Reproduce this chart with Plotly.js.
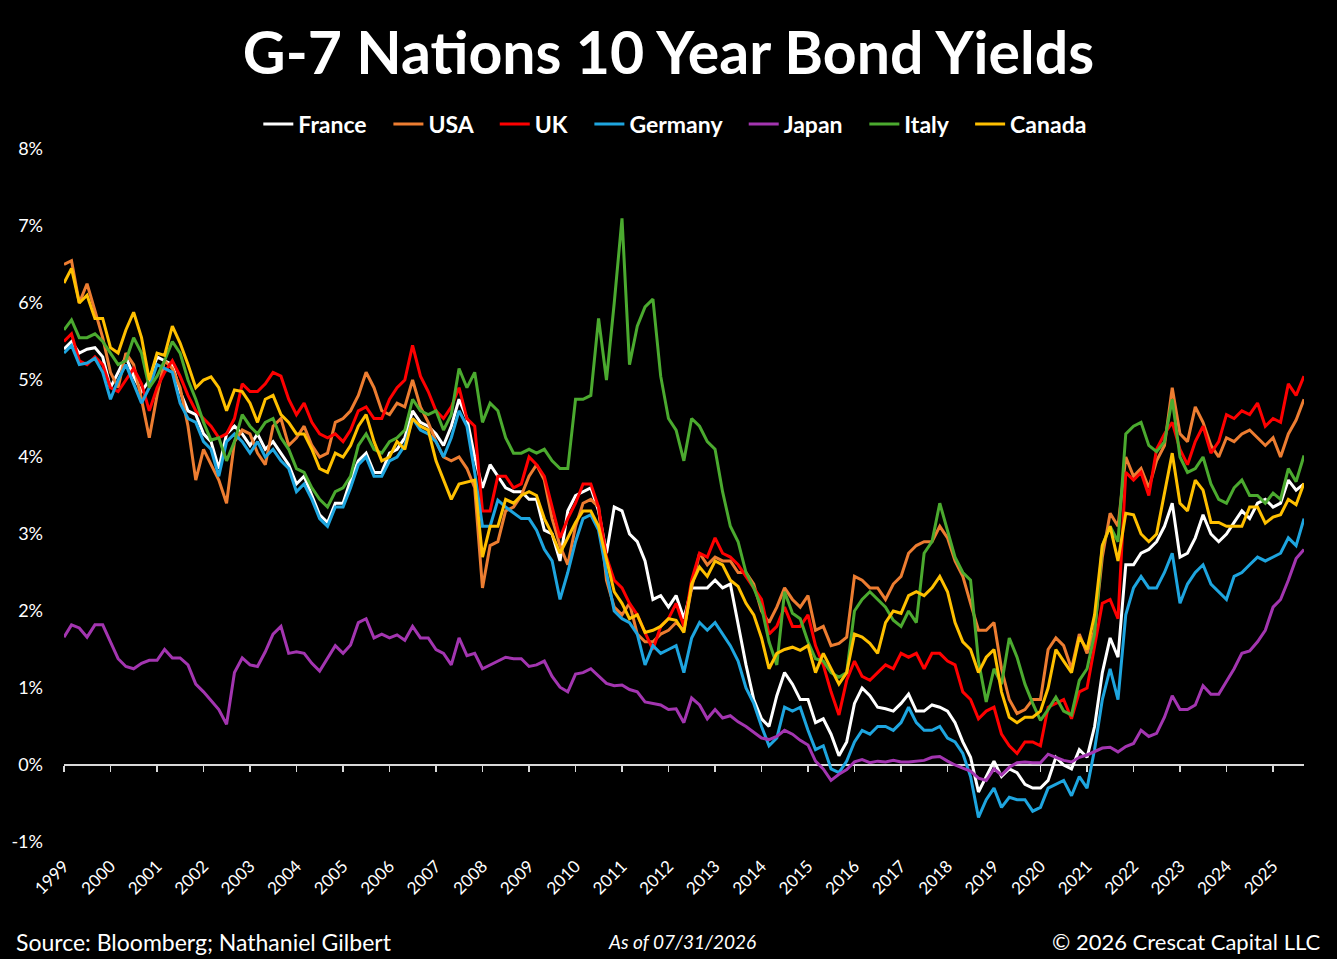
<!DOCTYPE html>
<html>
<head>
<meta charset="utf-8">
<script src="https://cdn.plot.ly/plotly-3.0.1.min.js"></script>
<style>
  html, body { margin: 0; padding: 0; background: #000; }
  #chart { width: 1337px; height: 959px; }
</style>
</head>
<body>
<div id="chart"></div>
<script>
// bimonthly readings (Jan, Mar, May, Jul, Sep, Nov), 1999-01 .. 2025-09
var months = [1, 3, 5, 7, 9, 11];
var dates = [];
for (var yr = 1999; yr <= 2025; yr++) {
  months.forEach(function (m) {
    if (yr === 2025 && m > 9) return;
    dates.push(yr + '-' + (m < 10 ? '0' + m : m) + '-01');
  });
}

var countries = ['France', 'USA', 'UK', 'Germany', 'Japan', 'Italy', 'Canada'];
var colors = ['#FFFFFF', '#ED7D31', '#FF0000', '#1EA5DF', '#A335B0', '#4BAA2F', '#FFC000'];

var yTickVals = [-1, 0, 1, 2, 3, 4, 5, 6, 7, 8];
var yTickText = ['-1%', '0%', '1%', '2%', '3%', '4%', '5%', '6%', '7%', '8%'];

var france = [
  5.4, 5.5, 5.35, 5.4, 5.42, 5.3,
  4.9, 5.1, 5.3, 5.05, 4.85, 5.0,
  5.3, 5.25, 5.2, 4.85, 4.6, 4.55,
  4.3, 4.2, 3.85, 4.3, 4.4, 4.3,
  4.15, 4.3, 4.1, 4.2, 4.05, 3.9,
  3.65, 3.75, 3.5, 3.25, 3.15, 3.4,
  3.4, 3.7, 3.95, 4.05, 3.8, 3.8,
  4.05, 4.1, 4.25, 4.6, 4.45, 4.4,
  4.3, 4.15, 4.4, 4.75, 4.5, 4.0,
  3.6, 3.9, 3.75, 3.6, 3.55, 3.55,
  3.45, 3.45, 3.05, 3.0, 2.65, 3.3,
  3.5, 3.55, 3.6, 3.3, 2.75, 3.35,
  3.3, 3.0, 2.9, 2.65, 2.15, 2.2,
  2.05, 2.2, 1.9, 2.3, 2.3, 2.3,
  2.4, 2.3, 2.35, 1.85, 1.3, 0.85,
  0.6, 0.5, 0.9, 1.2, 1.05, 0.85,
  0.85, 0.55, 0.6, 0.4, 0.12, 0.3,
  0.8, 1.0, 0.9, 0.75, 0.73, 0.7,
  0.8, 0.92, 0.7, 0.7, 0.78, 0.75,
  0.7, 0.55, 0.3, 0.1, -0.35, -0.15,
  0.05, -0.15, -0.05, -0.1, -0.25, -0.3,
  -0.3, -0.2, 0.1, 0.0, -0.05, 0.2,
  0.1, 0.5, 1.2, 1.65, 1.4, 2.6,
  2.6, 2.75, 2.8, 2.9, 3.1, 3.4,
  2.7, 2.75, 2.95, 3.25, 3.0, 2.9,
  3.0, 3.15, 3.3, 3.2, 3.4, 3.45,
  3.35, 3.4, 3.7, 3.57, 3.65
];

var usa = [
  6.5, 6.55, 6.0, 6.25, 5.9, 5.55,
  5.1, 4.9, 5.35, 5.2, 4.75, 4.25,
  4.8, 5.25, 5.15, 4.9, 4.4, 3.7,
  4.1, 3.9, 3.7, 3.4, 4.2, 4.35,
  4.3, 4.05, 3.9, 4.4, 4.5, 4.15,
  4.25, 4.4, 4.15, 4.0, 4.05, 4.45,
  4.5, 4.6, 4.8, 5.1, 4.9, 4.6,
  4.55, 4.7, 4.65, 5.0, 4.65, 4.45,
  4.2, 4.0, 3.95, 4.0, 3.85, 3.6,
  2.3, 2.85, 2.9, 3.3, 3.35, 3.5,
  3.75, 3.9, 3.7, 3.2, 2.85, 2.6,
  3.1, 3.4, 3.45, 3.35, 2.4, 2.05,
  1.95, 2.1, 1.7, 1.6, 1.6, 1.7,
  1.75, 1.85, 1.75, 2.3, 2.75, 2.6,
  2.7, 2.65, 2.65, 2.5, 2.5, 2.35,
  2.0, 1.85, 2.05, 2.3, 2.15, 2.05,
  2.2, 1.75, 1.8, 1.55, 1.58, 1.66,
  2.45, 2.4, 2.3, 2.3, 2.15, 2.35,
  2.45, 2.75, 2.85, 2.9, 2.9, 3.1,
  2.95, 2.65, 2.45, 2.1, 1.75, 1.75,
  1.85, 1.25, 0.85, 0.67, 0.72, 0.85,
  0.85, 1.5, 1.65, 1.55, 1.25, 1.7,
  1.45, 1.75, 2.7, 3.27, 3.1, 4.0,
  3.75, 3.85, 3.6, 3.95, 4.15, 4.9,
  4.3, 4.2, 4.65, 4.45, 4.15, 4.0,
  4.25, 4.2, 4.3, 4.35, 4.25, 4.15,
  4.25, 4.0, 4.3, 4.48, 4.75
];

var uk = [
  5.5, 5.6, 5.25, 5.2, 5.3, 5.2,
  4.9, 4.85, 5.0, 5.15, 4.95, 4.6,
  4.9, 5.1, 5.25, 5.05, 4.8, 4.6,
  4.5, 4.4, 4.25, 4.3, 4.5, 4.95,
  4.85, 4.85, 4.95, 5.1, 5.05, 4.75,
  4.55, 4.7, 4.45, 4.3, 4.25, 4.3,
  4.2, 4.35, 4.6, 4.65, 4.5, 4.5,
  4.75, 4.9, 5.0, 5.45, 5.05, 4.85,
  4.6, 4.5, 4.65, 4.9, 4.5, 4.4,
  3.3, 3.3, 3.75, 3.75, 3.6, 3.65,
  4.0, 3.9, 3.75, 3.35, 2.95, 3.2,
  3.4, 3.65, 3.65, 3.35, 2.7, 2.4,
  2.3, 2.1, 1.95, 1.72, 1.5, 1.8,
  1.9, 2.1, 1.8, 2.4, 2.75, 2.7,
  2.95, 2.75, 2.7, 2.6, 2.45, 2.3,
  2.15, 1.7, 1.8, 2.05, 1.8, 1.8,
  1.95, 1.55, 1.3, 0.95, 0.65, 1.1,
  1.35, 1.15, 1.1, 1.2, 1.3, 1.25,
  1.45, 1.4, 1.45, 1.25, 1.45, 1.45,
  1.35, 1.3, 0.95, 0.85, 0.6, 0.7,
  0.75, 0.4, 0.25, 0.15, 0.3, 0.3,
  0.25, 0.75, 0.8, 0.85, 0.6, 0.95,
  1.0, 1.55, 2.1, 2.15, 1.9, 3.8,
  3.7, 3.8, 3.5, 4.1, 4.3, 4.45,
  4.1, 3.9, 4.2, 4.4, 4.05, 4.2,
  4.55, 4.5, 4.6, 4.55, 4.7, 4.4,
  4.5, 4.45, 4.95, 4.8, 5.05
];

var germany = [
  5.35, 5.45, 5.2, 5.22, 5.28, 5.1,
  4.75, 5.0, 5.2, 4.95, 4.7, 4.9,
  5.2, 5.15, 5.1, 4.7, 4.5, 4.45,
  4.2, 4.1, 3.75, 4.2, 4.3, 4.2,
  4.05, 4.2, 4.0, 4.1, 3.95, 3.85,
  3.55, 3.65, 3.45, 3.2, 3.1, 3.35,
  3.35, 3.6, 3.9, 4.0, 3.75, 3.75,
  3.95, 4.0, 4.15, 4.5, 4.35, 4.3,
  4.2, 4.0, 4.25, 4.6, 4.4, 3.8,
  3.1, 3.1, 3.44, 3.35, 3.27, 3.2,
  3.2, 3.05, 2.8, 2.65, 2.15, 2.5,
  2.9, 3.2, 3.25, 3.05, 2.5, 2.0,
  1.9, 1.85, 1.7, 1.3, 1.55, 1.45,
  1.5, 1.55, 1.2, 1.65, 1.85, 1.75,
  1.85, 1.7, 1.55, 1.35, 1.0, 0.8,
  0.5, 0.25, 0.35, 0.75, 0.7, 0.75,
  0.45, 0.2, 0.25, -0.05, -0.1, 0.05,
  0.3, 0.45, 0.4, 0.5, 0.5, 0.45,
  0.55, 0.75, 0.55, 0.45, 0.45, 0.5,
  0.35, 0.3, 0.15, -0.15, -0.68, -0.45,
  -0.3, -0.55, -0.42, -0.45, -0.45, -0.6,
  -0.55, -0.3, -0.25, -0.2, -0.4, -0.15,
  -0.3, 0.2, 0.85, 1.25, 0.85, 1.95,
  2.3, 2.45, 2.3, 2.3, 2.5, 2.75,
  2.1, 2.35, 2.5, 2.6, 2.35, 2.25,
  2.15, 2.45, 2.5, 2.6, 2.7, 2.65,
  2.7, 2.75, 2.95, 2.85, 3.2
];

var japan = [
  1.66, 1.82, 1.78, 1.66, 1.82, 1.82,
  1.6, 1.38, 1.28, 1.25, 1.32, 1.36,
  1.36, 1.5, 1.39, 1.39, 1.3, 1.05,
  0.95, 0.83, 0.72, 0.53, 1.2, 1.39,
  1.3, 1.28, 1.47, 1.7, 1.8, 1.45,
  1.47, 1.45, 1.32, 1.22, 1.38, 1.55,
  1.45, 1.56, 1.85, 1.9, 1.65, 1.7,
  1.65, 1.69, 1.62, 1.8, 1.65, 1.65,
  1.5, 1.45, 1.3, 1.65, 1.42, 1.45,
  1.25, 1.3, 1.35, 1.4, 1.38, 1.38,
  1.28, 1.3, 1.35, 1.15, 1.01, 0.95,
  1.18, 1.2, 1.25, 1.15, 1.06, 1.03,
  1.04, 0.98, 0.95, 0.82, 0.8, 0.78,
  0.72, 0.73, 0.55, 0.87, 0.78, 0.6,
  0.72, 0.61, 0.64, 0.56, 0.5, 0.42,
  0.35, 0.33, 0.37, 0.45, 0.4, 0.32,
  0.26, 0.05, -0.05, -0.2, -0.12, -0.06,
  0.04, 0.07, 0.03, 0.05, 0.04, 0.06,
  0.04, 0.04, 0.05, 0.06, 0.1, 0.11,
  0.05, 0.0, -0.04, -0.08, -0.17, -0.2,
  -0.05, -0.13, -0.03, 0.03, 0.04, 0.03,
  0.03, 0.14, 0.1, 0.06, 0.04, 0.1,
  0.13, 0.17, 0.22, 0.23, 0.17, 0.24,
  0.28, 0.45, 0.37, 0.41, 0.62, 0.9,
  0.72, 0.72, 0.78, 1.03, 0.92, 0.92,
  1.08, 1.25, 1.45, 1.48, 1.6, 1.75,
  2.05, 2.15, 2.4, 2.68, 2.8
];

var italy = [
  5.65, 5.78, 5.55, 5.55, 5.6, 5.5,
  5.35, 5.2, 5.25, 5.55, 5.35, 4.9,
  5.05, 5.25, 5.5, 5.35, 5.0, 4.75,
  4.45, 4.22, 4.25, 3.95, 4.2, 4.55,
  4.4, 4.3, 4.45, 4.5, 4.25, 4.1,
  3.85, 3.8, 3.6, 3.45, 3.35, 3.55,
  3.6, 3.75, 4.15, 4.3, 4.1, 4.05,
  4.2, 4.25, 4.35, 4.75, 4.6, 4.55,
  4.6, 4.35, 4.55, 5.15, 4.9, 5.1,
  4.45, 4.7, 4.6, 4.25, 4.05, 4.05,
  4.1, 4.05, 4.1, 3.95, 3.85, 3.85,
  4.75, 4.75, 4.8, 5.8, 5.0, 6.0,
  7.1, 5.2, 5.7, 5.95, 6.05, 5.05,
  4.5, 4.35, 3.95, 4.5, 4.4, 4.2,
  4.1, 3.55, 3.1, 2.9, 2.5, 2.3,
  2.05, 1.6, 1.3, 2.25, 1.97, 1.9,
  1.6, 1.38, 1.35, 1.2, 1.14, 1.2,
  2.0, 2.15, 2.25, 2.15, 2.05, 1.88,
  1.8, 2.0, 1.85, 2.75, 2.9, 3.4,
  3.05, 2.7, 2.5, 2.4, 1.35, 0.82,
  1.25, 1.05, 1.65, 1.4, 1.05, 0.8,
  0.58, 0.72, 0.88, 0.7, 0.65, 1.1,
  1.25, 1.7, 2.85, 3.1, 2.9, 4.3,
  4.4, 4.45, 4.15, 4.07, 4.2, 4.75,
  4.0, 3.8, 3.85, 4.0, 3.65, 3.45,
  3.4, 3.6, 3.7, 3.5, 3.5, 3.4,
  3.53, 3.45, 3.85, 3.68, 4.02
];

var canada = [
  6.26, 6.45, 6.0, 6.1, 5.8, 5.8,
  5.42, 5.35, 5.65, 5.88, 5.55, 5.0,
  5.35, 5.32, 5.7, 5.48, 5.2, 4.9,
  5.0, 5.04, 4.9, 4.6, 4.87, 4.85,
  4.7, 4.45, 4.75, 4.8, 4.55, 4.45,
  4.3, 4.3, 4.1, 3.85, 3.8, 4.05,
  4.0, 4.15, 4.4, 4.55, 4.2, 3.95,
  4.0, 4.2, 4.1, 4.5, 4.4, 4.35,
  3.95, 3.7, 3.45, 3.65, 3.68, 3.7,
  2.7, 3.1, 3.1, 3.45, 3.4, 3.5,
  3.55, 3.5, 3.2, 3.0, 2.75, 2.95,
  3.15, 3.3, 3.3, 3.1, 2.66, 2.25,
  2.1, 1.9, 1.95, 1.72, 1.75, 1.8,
  1.9, 1.88, 1.72, 2.35, 2.57, 2.45,
  2.65, 2.6, 2.4, 2.32, 2.1, 1.95,
  1.65, 1.25, 1.45, 1.5, 1.53, 1.49,
  1.55, 1.2, 1.45, 1.25, 1.05, 1.2,
  1.7, 1.66, 1.58, 1.45, 1.85, 2.0,
  1.97, 2.2, 2.25, 2.2, 2.3, 2.45,
  2.25, 1.85, 1.6, 1.5, 1.2, 1.4,
  1.5, 0.95, 0.62, 0.55, 0.62, 0.62,
  0.7, 1.0, 1.5, 1.35, 1.2, 1.66,
  1.5, 1.95, 2.85, 3.1, 2.65, 3.27,
  3.25, 3.0, 2.9, 3.0, 3.55, 4.05,
  3.4, 3.3, 3.7, 3.57, 3.15, 3.15,
  3.1, 3.1, 3.1, 3.35, 3.35, 3.14,
  3.22, 3.25, 3.45, 3.38, 3.66
];

var series = [france, usa, uk, germany, japan, italy, canada];

// trailing no-break spaces widen the gap between legend entries
var legendPad = '\u00A0\u00A0\u00A0';

var traces = countries.map(function (name, i) {
  return {
    x: dates,
    y: series[i],
    name: i < countries.length - 1 ? name + legendPad : name,
    type: 'scatter',
    mode: 'lines',
    line: { color: colors[i], width: 3 },
    hoverinfo: 'x+y+name'
  };
});

// empty trace so the zero-line axis (with its year ticks) is drawn
traces.push({ x: [], y: [], xaxis: 'x2', yaxis: 'y', showlegend: false, hoverinfo: 'skip' });

var xRange = [dates[0], dates[dates.length - 1]];

var layout = {
  width: 1337,
  height: 959,
  paper_bgcolor: '#000000',
  plot_bgcolor: '#000000',
  margin: { l: 64, r: 33, t: 149, b: 117 },
  font: { family: 'Lato, "Open Sans", sans-serif', color: '#FFFFFF' },
  title: {
    text: 'G-7 Nations 10 Year Bond Yields',
    font: { size: 59, weight: 'bold', color: '#FFFFFF' },
    x: 0.5, xanchor: 'center',
    y: 0.944, yanchor: 'middle'
  },
  showlegend: true,
  legend: {
    orientation: 'h',
    x: 0.493, xanchor: 'center',
    y: 1.036, yanchor: 'middle',
    font: { size: 23, weight: 'bold', color: '#FFFFFF' },
    bgcolor: 'rgba(0,0,0,0)'
  },
  xaxis: {
    type: 'date',
    range: xRange,
    tick0: '1999-01-01',
    dtick: 'M12',
    tickformat: '%Y',
    tickangle: -45,
    ticks: '',
    ticklabelstandoff: 10,
    tickfont: { size: 17, color: '#FFFFFF' },
    showgrid: false,
    zeroline: false,
    showline: false
  },
  xaxis2: {
    type: 'date',
    overlaying: 'x',
    matches: 'x',
    anchor: 'free',
    position: 1 / 9,
    range: xRange,
    tick0: '1999-01-01',
    dtick: 'M12',
    showticklabels: false,
    ticks: 'outside',
    ticklen: 6,
    tickwidth: 1.5,
    tickcolor: '#D9D9D9',
    showline: true,
    linecolor: '#D9D9D9',
    linewidth: 2,
    showgrid: false,
    zeroline: false,
    layer: 'below traces'
  },
  yaxis: {
    range: [-1, 8],
    tickmode: 'array',
    tickvals: yTickVals,
    ticktext: yTickText,
    ticks: '',
    ticklabelstandoff: 20,
    tickfont: { size: 18, color: '#FFFFFF' },
    showgrid: false,
    zeroline: false,
    showline: false
  },
  annotations: [
    {
      text: 'Source: Bloomberg; Nathaniel Gilbert',
      xref: 'paper', yref: 'paper',
      x: -0.0403, xanchor: 'left',
      y: -0.1443, yanchor: 'middle',
      showarrow: false,
      font: { size: 23, color: '#FFFFFF' }
    },
    {
      text: 'As of 07/31/2026',
      xref: 'paper', yref: 'paper',
      x: 0.498, xanchor: 'center',
      y: -0.1443, yanchor: 'middle',
      showarrow: false,
      font: { size: 19, style: 'italic', color: '#FFFFFF' }
    },
    {
      text: '\u00A9 2026 Crescat Capital LLC',
      xref: 'paper', yref: 'paper',
      x: 1.0145, xanchor: 'right',
      y: -0.1443, yanchor: 'middle',
      showarrow: false,
      font: { size: 22, color: '#FFFFFF' }
    }
  ]
};

Plotly.newPlot('chart', traces, layout, { displayModeBar: false, staticPlot: true });
</script>
</body>
</html>
